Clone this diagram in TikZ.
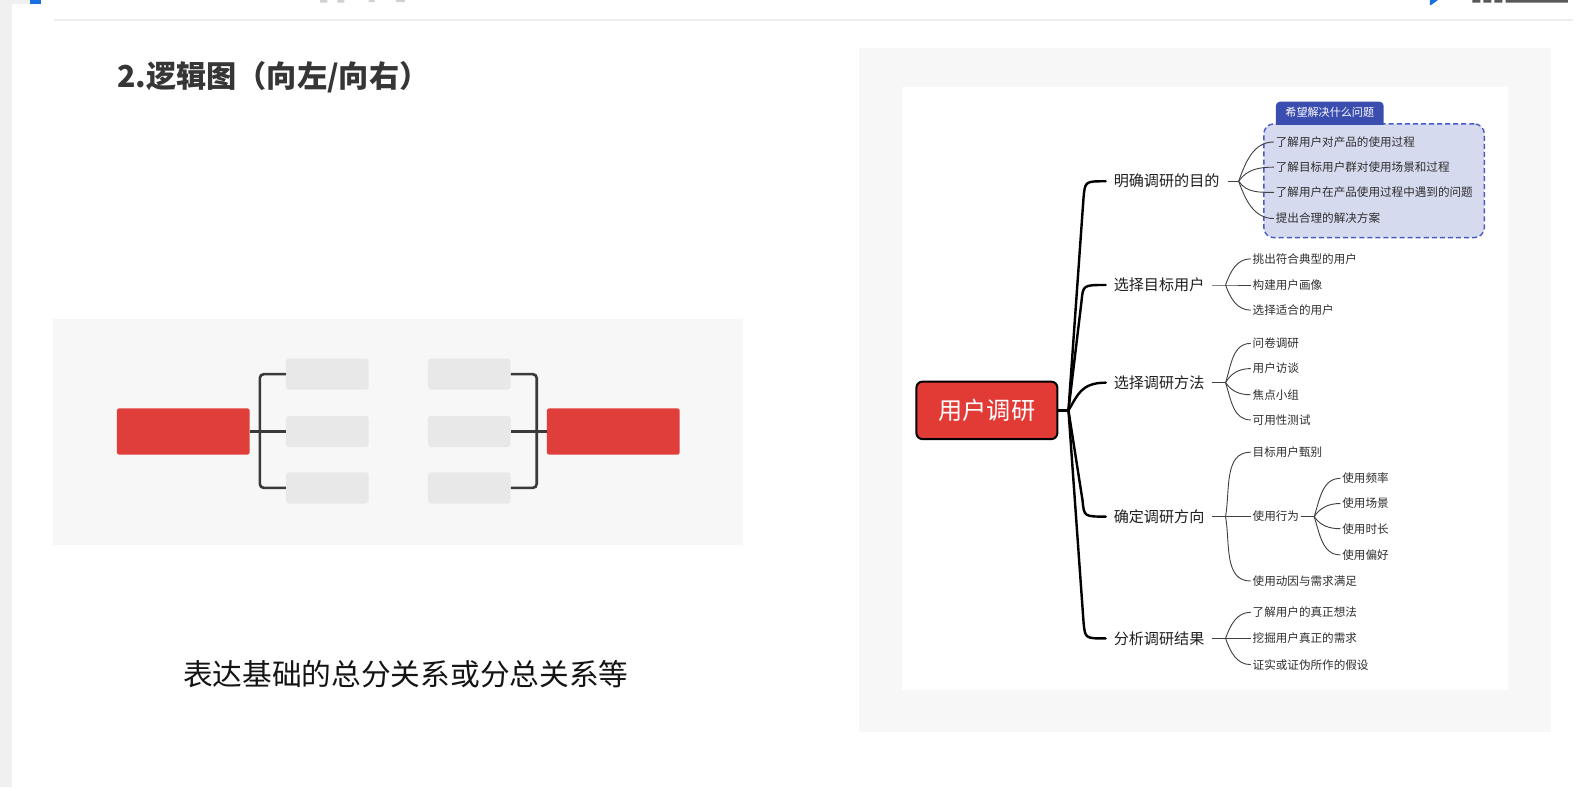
\documentclass[tikz,border=0pt]{standalone}
\usepackage{fontspec}
\setmainfont{Noto Sans CJK SC}
\definecolor{pagegray}{HTML}{F0F0F0}
\definecolor{panelgray}{HTML}{F7F7F7}
\definecolor{rulegray}{HTML}{EDEDED}
\definecolor{barred}{HTML}{E03E3A}
\definecolor{slotgray}{HTML}{E8E8E8}
\definecolor{linkgray}{HTML}{3A3A3A}
\definecolor{rootred}{HTML}{E23B36}
\definecolor{zonefill}{HTML}{D6DAEF}
\definecolor{zoneline}{HTML}{4B5BC2}
\definecolor{tabblue}{HTML}{3C4DB0}
\definecolor{iconblue}{HTML}{1A6FE0}
\definecolor{titlegray}{HTML}{363636}
\tikzset{
  panel/.style={fill=panelgray, draw=none},
  redbar/.style={fill=barred, rounded corners=2.5, minimum width=132, minimum height=46, inner sep=0},
  slot/.style={fill=slotgray, rounded corners=3, minimum width=82, minimum height=31, inner sep=0},
  bracket/.style={draw=linkgray, line width=2.6, rounded corners=4},
  rootbox/.style={fill=rootred, draw=black, line width=2, rounded corners=6,
    minimum width=140, minimum height=57, inner sep=0, text=white,
    font=\fontsize{24}{24}\selectfont},
  mainlabel/.style={anchor=west, inner sep=0, outer xsep=8, text=black!88,
    font=\fontsize{15}{15}\selectfont},
  leaf/.style={anchor=west, inner sep=0, outer xsep=2, text=black!82,
    font=\fontsize{11.5}{11.5}\selectfont},
  mainlink/.style={draw=black, line width=2.4, line cap=round},
  sublink/.style={draw=black!75, line width=0.9},
  zonebox/.style={fill=zonefill, draw=zoneline, line width=1.4, dash pattern=on 5 off 3,
    rounded corners=10, minimum width=219, minimum height=113, inner sep=0},
}
\begin{document}
\begin{tikzpicture}[x=1pt,y=-1pt]
\useasboundingbox (0,0) rectangle (1568,782);
\fill[white] (0,0) rectangle (1568,782);

% page chrome
\fill[pagegray] (0,0) rectangle (12,782);
\fill[pagegray] (12,0) rectangle (30,4);
\fill[iconblue] (30,0) rectangle (41,4);
\fill[black!18] (318,0) rectangle (325,2.5) (335,0) rectangle (342,2.5)
  (366,0) rectangle (372,2) (393,0) rectangle (402,2);
\fill[iconblue] (1420,0) -- (1428,0) -- (1421,5) -- (1420,5) -- cycle;
\fill[black!65] (1462,0) rectangle (1470,2.5) (1473,0) rectangle (1481,2.5)
  (1484,0) rectangle (1492,2.5) (1495,0) rectangle (1557,2.5);
\draw[rulegray, line width=1.5] (54,20) -- (1562,20);

% heading and caption
\node[anchor=west, inner sep=0, text=titlegray, font=\fontsize{30}{30}\selectfont\bfseries]
  (title) at (116,77) {2.逻辑图（向左/向右）};
\node[inner sep=0, text=black!92, font=\fontsize{29.5}{29.5}\selectfont]
  (caption) at (403,669) {表达基础的总分关系或分总关系等};

% left sample: bracket layout
\fill[panel] (53,317) rectangle (738,541);
\node[redbar] (L) at (182,428.5) {};
\node[slot] (lt) at (325,371.5) {};
\node[slot] (lm) at (325,428.5) {};
\node[slot] (lb) at (325,484.5) {};
\node[slot] (rt) at (466,371.5) {};
\node[slot] (rm) at (466,428.5) {};
\node[slot] (rb) at (466,484.5) {};
\node[redbar] (R) at (609,428.5) {};
\coordinate (jl) at (258,428.5);
\coordinate (jr) at (533,428.5);
\draw[bracket] (lt.west) -| (jl) |- (lb.west);
\draw[bracket] (L.east) -- (lm.west);
\draw[bracket] (rt.east) -| (jr) |- (rb.east);
\draw[bracket] (rm.east) -- (R.west);

% right sample: mind map
\fill[panel] (853,48) rectangle (1540,727);
\fill[white] (896,86) rectangle (1497,685);

\node[zonebox] (zone) at (1364.5,179.5) {};
\fill[tabblue, rounded corners=4] (1267,124) -- (1267,101) -- (1374,101) -- (1374,124);
\node[inner sep=0, text=white, font=\fontsize{11}{11}\selectfont] (tab) at (1320.5,112) {希望解决什么问题};

\node[rootbox] (root) at (980,407.5) {用户调研};
\coordinate (hub) at (1061,407.5);

\node[mainlabel] (m1) at (1098,180) {明确调研的目的};
\node[mainlabel] (m2) at (1098,283) {选择目标用户};
\node[mainlabel] (m3) at (1098,380) {选择调研方法};
\node[mainlabel] (m4) at (1098,513) {确定调研方向};
\node[mainlabel] (m5) at (1098,634) {分析调研结果};

\draw[mainlink] (root.east) -- (hub);
\draw[mainlink] (hub) -- (1076,196) .. controls (1077.5,180) .. (m1.west);
\draw[mainlink] (hub) -- (1074,299) .. controls (1075.5,283) .. (m2.west);
\draw[mainlink] (hub) .. controls (1070,393) and (1073,380) .. (m3.west);
\draw[mainlink] (hub) -- (1075,497) .. controls (1076.5,513) .. (m4.west);
\draw[mainlink] (hub) -- (1076,618) .. controls (1077.5,634) .. (m5.west);

% purpose (out angles are measured on the page: positive turns upward)
\node[leaf] (a1) at (1265,141) {了解用户对产品的使用过程};
\node[leaf] (a2) at (1265,166) {了解目标用户群对使用场景和过程};
\node[leaf] (a3) at (1265,191) {了解用户在产品使用过程中遇到的问题};
\node[leaf] (a4) at (1265,217) {提出合理的解决方案};
\coordinate (j1) at (1230,180);
\draw[sublink] (m1.east) -- (j1);
\draw[sublink] (j1) to[out=70, in=180] (a1.west);
\draw[sublink] (j1) to[out=55, in=180] (a2.west);
\draw[sublink] (j1) to[out=-55, in=180] (a3.west);
\draw[sublink] (j1) to[out=-70, in=180] (a4.west);

% target users
\node[leaf] (b1) at (1242,257) {挑出符合典型的用户};
\node[leaf] (b2) at (1242,283) {构建用户画像};
\node[leaf] (b3) at (1242,308) {选择适合的用户};
\coordinate (j2) at (1217,283);
\draw[sublink] (m2.east) -- (j2) -- (b2.west);
\draw[sublink] (j2) to[out=70, in=180] (b1.west);
\draw[sublink] (j2) to[out=-70, in=180] (b3.west);

% methods
\node[leaf] (c1) at (1242,341) {问卷调研};
\node[leaf] (c2) at (1242,366) {用户访谈};
\node[leaf] (c3) at (1242,392) {焦点小组};
\node[leaf] (c4) at (1242,417) {可用性测试};
\coordinate (j3) at (1217,380);
\draw[sublink] (m3.east) -- (j3);
\draw[sublink] (j3) to[out=72, in=180] (c1.west);
\draw[sublink] (j3) to[out=60, in=180] (c2.west);
\draw[sublink] (j3) to[out=-55, in=180] (c3.west);
\draw[sublink] (j3) to[out=-72, in=180] (c4.west);

% direction
\node[leaf] (d1) at (1242,449) {目标用户甄别};
\node[leaf] (d2) at (1242,513) {使用行为};
\node[leaf] (d3) at (1242,577) {使用动因与需求满足};
\coordinate (j4) at (1217,513);
\draw[sublink] (m4.east) -- (j4) -- (d2.west);
\draw[sublink] (j4) to[out=80, in=180] (d1.west);
\draw[sublink] (j4) to[out=-80, in=180] (d3.west);

\node[leaf] (e1) at (1331,475) {使用频率};
\node[leaf] (e2) at (1331,500) {使用场景};
\node[leaf] (e3) at (1331,525) {使用时长};
\node[leaf] (e4) at (1331,551) {使用偏好};
\coordinate (j6) at (1305,513);
\draw[sublink] (d2.east) -- (j6);
\draw[sublink] (j6) to[out=72, in=180] (e1.west);
\draw[sublink] (j6) to[out=55, in=180] (e2.west);
\draw[sublink] (j6) to[out=-55, in=180] (e3.west);
\draw[sublink] (j6) to[out=-72, in=180] (e4.west);

% results
\node[leaf] (f1) at (1242,608) {了解用户的真正想法};
\node[leaf] (f2) at (1242,634) {挖掘用户真正的需求};
\node[leaf] (f3) at (1242,660) {证实或证伪所作的假设};
\coordinate (j5) at (1217,634);
\draw[sublink] (m5.east) -- (j5) -- (f2.west);
\draw[sublink] (j5) to[out=70, in=180] (f1.west);
\draw[sublink] (j5) to[out=-70, in=180] (f3.west);
\end{tikzpicture}
\end{document}
